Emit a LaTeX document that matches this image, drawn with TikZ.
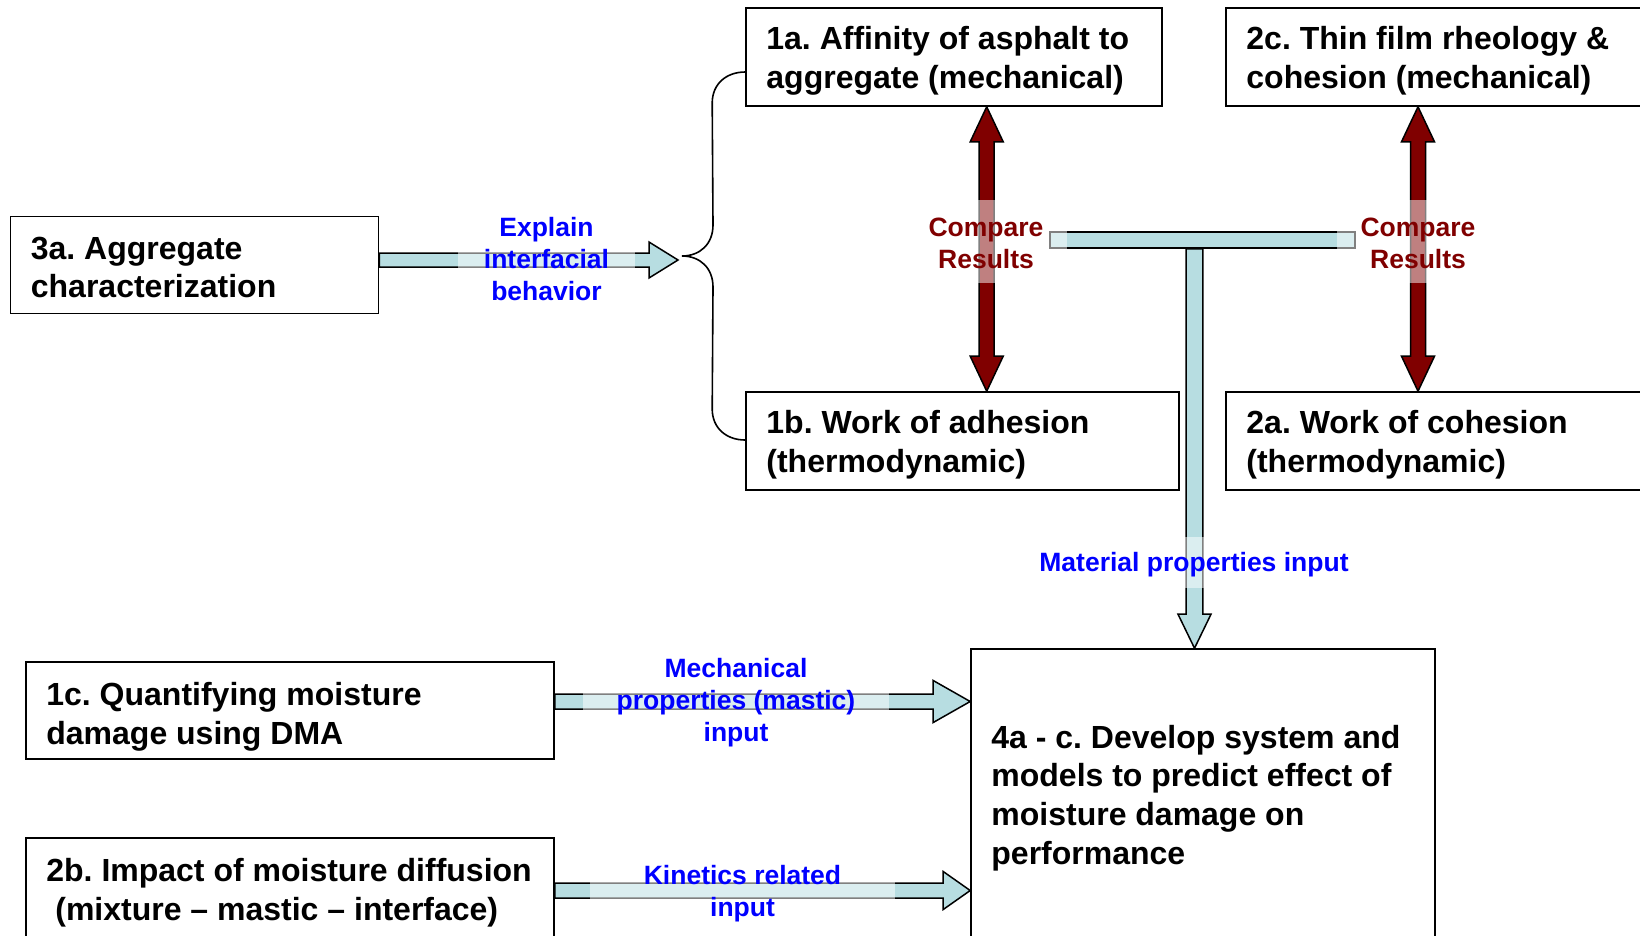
\documentclass[tikz,border=0pt]{standalone}
\usepackage{fontspec}
\setmainfont{Liberation Sans}
\usetikzlibrary{calc}
\definecolor{abl}{RGB}{183,221,225}
\definecolor{dred}{RGB}{128,0,0}
\definecolor{lblue}{RGB}{0,0,255}
\frenchspacing
% single block arrow: start, end, half shaft, half head, head length, style
\newcommand\fatarrow[6]{%
  \coordinate (fah) at ($(#2)!#5!(#1)$);
  \draw[#6] ($(#1)!#3!90:(#2)$) -- ($(fah)!#3!-90:(#1)$) -- ($(fah)!#4!-90:(#1)$) -- (#2)
    -- ($(fah)!#4!90:(#1)$) -- ($(fah)!#3!90:(#1)$) -- ($(#1)!#3!-90:(#2)$) -- cycle;
}
% double block arrow
\newcommand\dblarrow[6]{%
  \coordinate (das) at ($(#1)!#5!(#2)$);
  \coordinate (dae) at ($(#2)!#5!(#1)$);
  \draw[#6] (#1) -- ($(das)!#4!90:(#2)$) -- ($(das)!#3!90:(#2)$) -- ($(dae)!#3!-90:(#1)$)
    -- ($(dae)!#4!-90:(#1)$) -- (#2) -- ($(dae)!#4!90:(#1)$) -- ($(dae)!#3!90:(#1)$)
    -- ($(das)!#3!-90:(#2)$) -- ($(das)!#4!-90:(#2)$) -- cycle;
}
\begin{document}
\begin{tikzpicture}[x=1pt,y=-1pt,
  box/.style={draw=black,line width=1.6pt,fill=white,inner sep=0pt},
  boxtxt/.style={anchor=west,align=left,inner sep=0pt,font=\fontsize{32}{38.7}\selectfont\bfseries},
  lbl/.style={fill=white,fill opacity=0.5,text opacity=1,align=center,inner sep=0pt,
    font=\fontsize{26.5}{32}\selectfont\bfseries},
  fat/.style={fill=abl,draw=black,line width=1.5pt,line join=miter},
  redfat/.style={fill=dred,draw=black,line width=1.5pt,line join=miter},
  bracestyle/.style={draw=black,line width=1.6pt}
]
\useasboundingbox (0,0) rectangle (1640,935);
\clip (0,0) rectangle (1640,935);

% boxes
\node[box,minimum width=416,minimum height=98] (a1) at (954,57) {};
\node[box,minimum width=430,minimum height=98] (c2) at (1441,57) {};
\node[box,minimum width=433,minimum height=98] (b1) at (962.5,441) {};
\node[box,minimum width=430,minimum height=98] (a2) at (1441,441) {};
\node[box,minimum width=368,minimum height=97] (a3) at (194.5,265) {};
\node[box,minimum width=528,minimum height=97] (c1) at (290,710.5) {};
\node[box,minimum width=528,minimum height=102] (b2) at (290,889) {};
\node[box,minimum width=464,minimum height=292] (a4) at (1203,795) {};

\node[boxtxt] (a1t) at ($(a1.west)+(21,4)$) {1a. Affinity of asphalt to\\aggregate (mechanical)};
\node[boxtxt] (c2t) at ($(c2.west)+(21,4)$) {2c. Thin film rheology \&\\cohesion (mechanical)};
\node[boxtxt] (b1t) at ($(b1.west)+(21,4)$) {1b. Work of adhesion\\(thermodynamic)};
\node[boxtxt] (a2t) at ($(a2.west)+(21,4)$) {2a. Work of cohesion\\(thermodynamic)};
\node[boxtxt] (a3t) at ($(a3.west)+(21,2.5)$) {3a. Aggregate\\characterization};
\node[boxtxt] (c1t) at ($(c1.west)+(21,6)$) {1c. Quantifying moisture\\damage using DMA};
\node[boxtxt] (b2t) at ($(b2.west)+(21,4)$) {2b. Impact of moisture diffusion\\\hspace*{0.28em}(mixture – mastic – interface)};
\node[boxtxt] (a4t) at ($(a4.west)+(21,3)$) {4a - c. Develop system and\\models to predict effect of\\moisture damage on\\performance};

% brace
\coordinate (bt) at (682,256);
\coordinate (brtop) at ($(a1.west)+(0,15)$);
\coordinate (brbot) at ($(b1.west)+(0,-1)$);
\draw[bracestyle] (brtop) .. controls ($(brtop)+(-19,0)$) and ($(brtop)+(-33,12)$) .. ($(brtop)+(-33,31)$)
  -- ($(bt)+(31,-31)$) .. controls ($(bt)+(31,-12)$) and ($(bt)+(18,0)$) .. (bt)
  .. controls ($(bt)+(18,0)$) and ($(bt)+(31,12)$) .. ($(bt)+(31,31)$)
  -- ($(brbot)+(-33,-31)$) .. controls ($(brbot)+(-33,-12)$) and ($(brbot)+(-19,0)$) .. (brbot);

% Explain arrow
\coordinate (e1s) at ($(a3.east)+(0,-5)$);
\coordinate (e1e) at ($(bt)+(-4,4)$);
\fatarrow{e1s}{e1e}{7pt}{18pt}{29pt}{fat}

% red compare arrows
\coordinate (r1s) at ($(a1.south)+(32.7,0)$);
\coordinate (r1e) at (b1.north -| r1s);
\dblarrow{r1s}{r1e}{7.5pt}{16.5pt}{35pt}{redfat}
\coordinate (r2s) at ($(c2.south)+(-23,0)$);
\coordinate (r2e) at (a2.north -| r2s);
\dblarrow{r2s}{r2e}{7.5pt}{16.5pt}{35pt}{redfat}

% T connector
\node[fat,minimum width=305,minimum height=16,inner sep=0pt] (tbar) at (1202.5,240) {};
\coordinate (ts) at ($(tbar.south)+(-8,0)$);
\coordinate (te) at (a4.north -| ts);
\fatarrow{ts}{te}{8.3pt}{16.5pt}{34pt}{fat}

% mechanical and kinetics arrows
\coordinate (ms) at ($(c1.east)+(0,-9)$);
\coordinate (me) at (a4.west |- ms);
\fatarrow{ms}{me}{7.5pt}{21pt}{37pt}{fat}
\coordinate (ks) at ($(b2.east)+(0,1.5)$);
\coordinate (ke) at (a4.west |- ks);
\fatarrow{ks}{ke}{7.5pt}{19pt}{27pt}{fat}

% labels
\node[lbl,text=lblue,minimum width=177] (lexp) at (546.5,259.5) {Explain\\interfacial\\behavior};
\node[lbl,text=dred,minimum width=162,minimum height=83] (lcmp1) at (986,241.5) {};
\node[text=dred,align=center,inner sep=0pt,font=\fontsize{26.5}{32}\selectfont\bfseries] (tcmp1) at (986,243.5) {Compare\\Results};
\node[lbl,text=dred,minimum width=162,minimum height=83] (lcmp2) at (1418,241.5) {};
\node[text=dred,align=center,inner sep=0pt,font=\fontsize{26.5}{32}\selectfont\bfseries] (tcmp2) at (1418,243.5) {Compare\\Results};
\node[lbl,text=lblue,minimum width=330,minimum height=51] (lmat) at (1194,562) {};
\node[text=lblue,inner sep=0pt,font=\fontsize{26.5}{32}\selectfont\bfseries] (tmat) at (1194,565) {Material properties input};
\node[lbl,text=lblue,minimum width=306] (lmech) at (736,703) {Mechanical\\properties (mastic)\\input};
\node[lbl,text=lblue,minimum width=305] (lkin) at (742.5,894) {Kinetics related\\input};
\end{tikzpicture}
\end{document}
